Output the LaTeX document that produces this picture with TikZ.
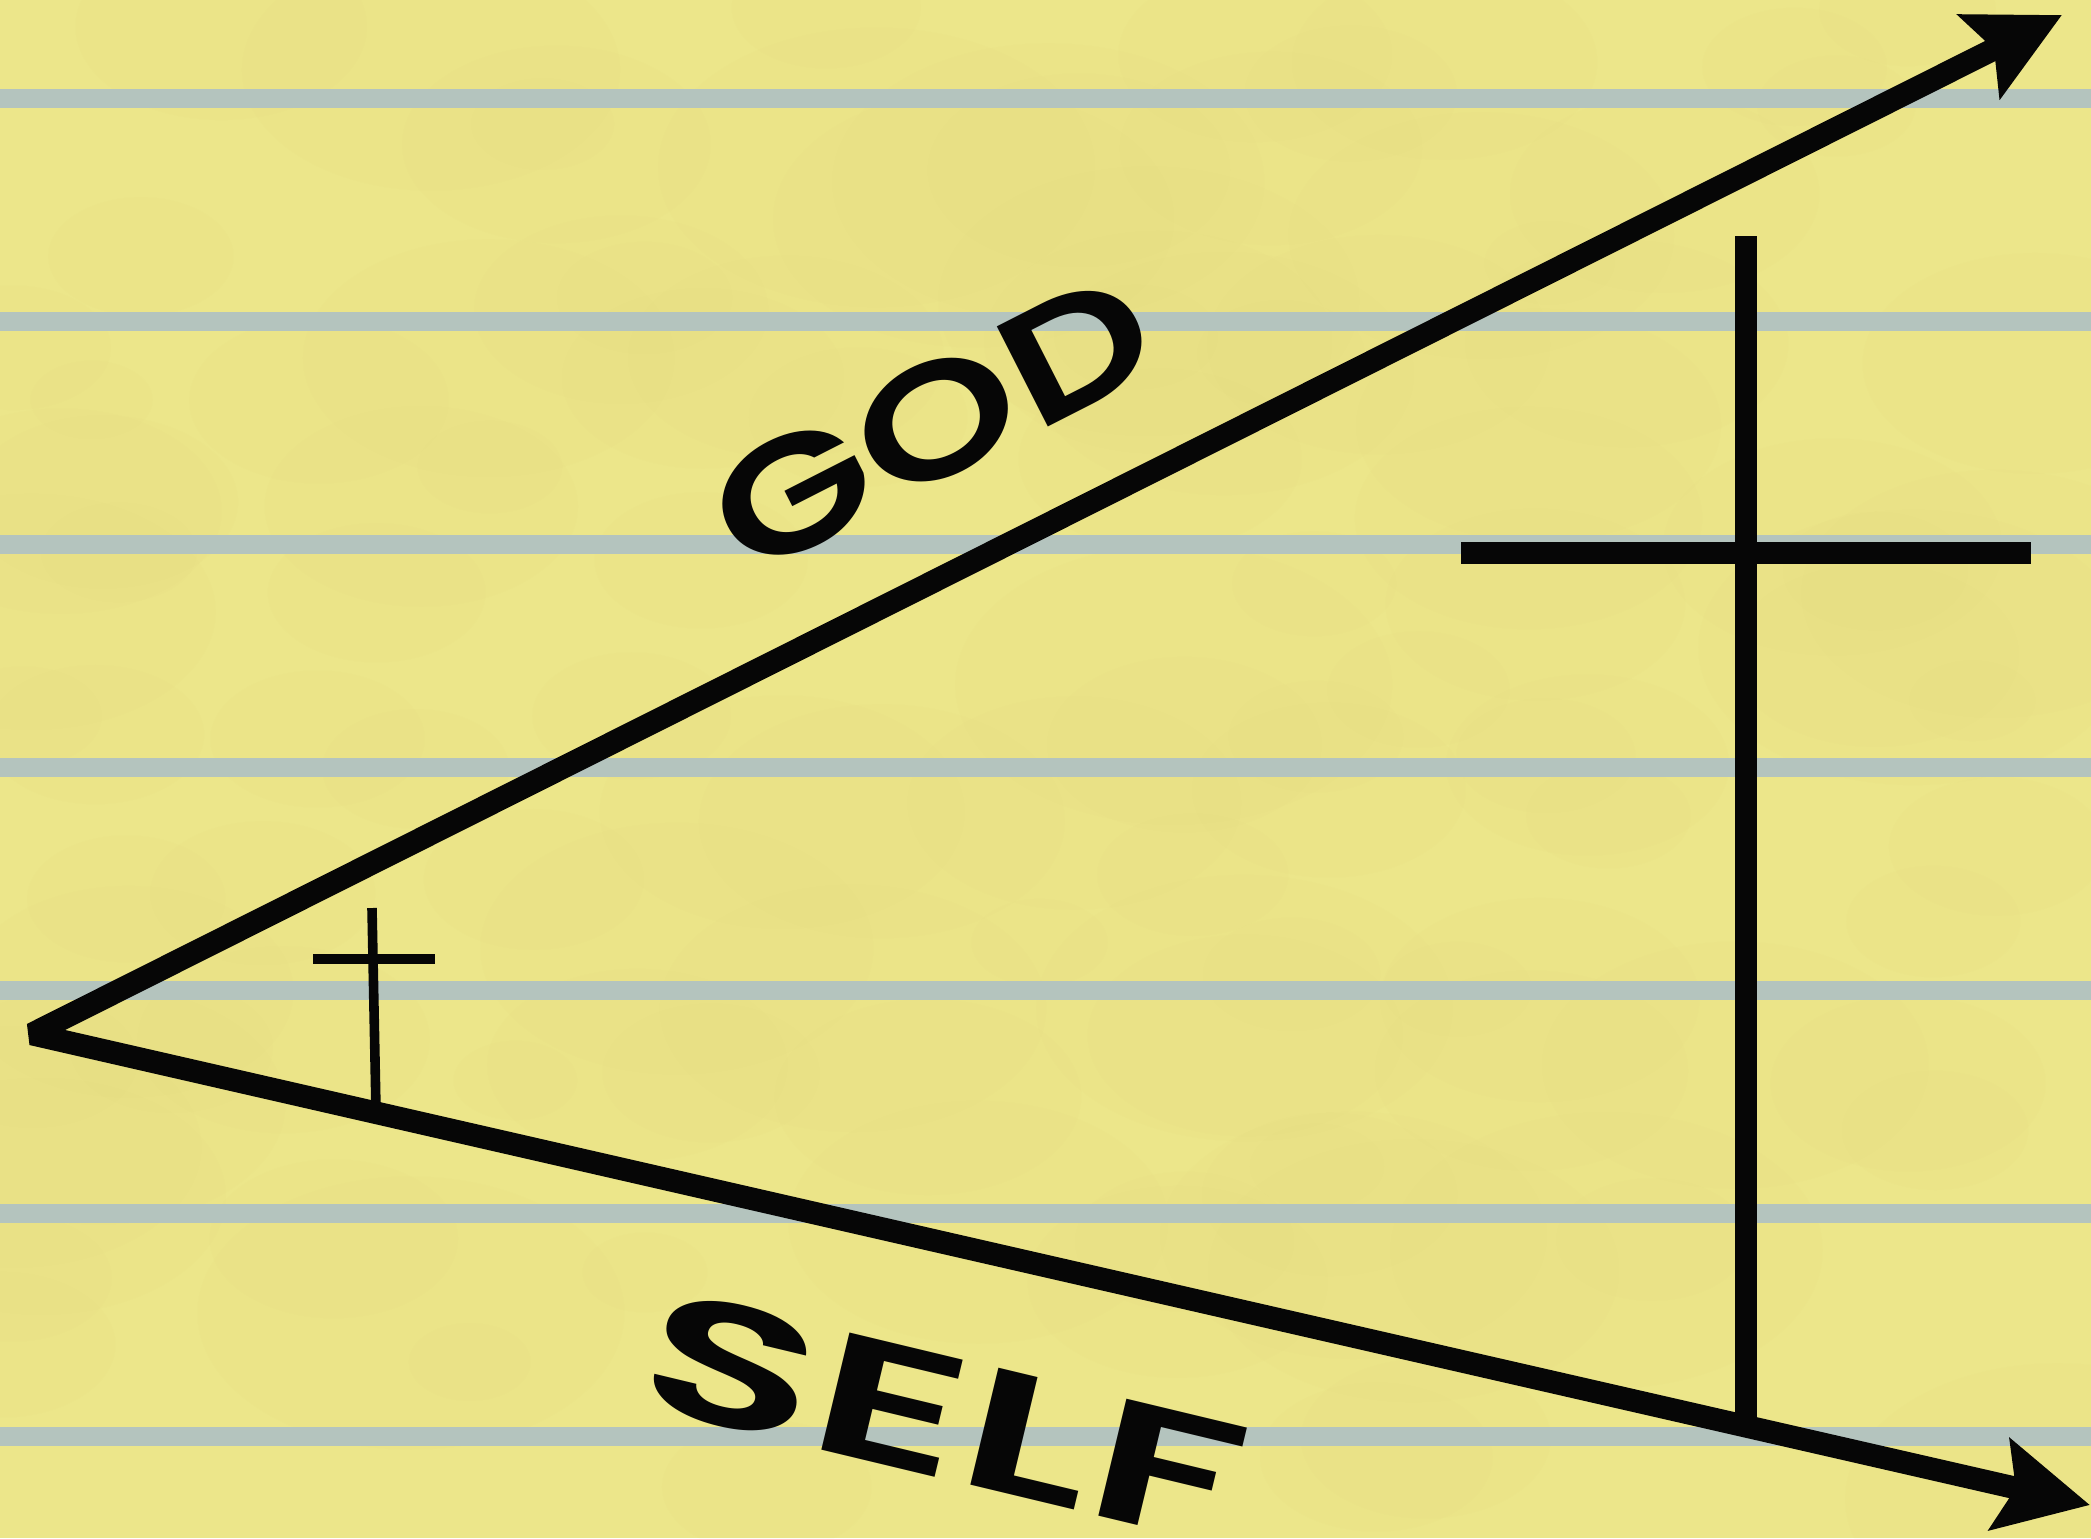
\documentclass[tikz,border=0pt]{standalone}
\usepackage{fontspec}
\newfontfamily\pop{Poppins SemiBold}
\usetikzlibrary{arrows.meta}
\definecolor{pad}{RGB}{236,230,138}
\definecolor{padshade}{RGB}{200,190,100}
\definecolor{rulecol}{RGB}{180,196,190}
\definecolor{ink}{RGB}{6,6,6}
\begin{document}
\begin{tikzpicture}[x=0.5pt,y=-0.5pt,
  mainline/.style={draw=ink,line width=11.3pt,line join=bevel,
     arrows={Stealth[length=46pt,width=46pt,inset=8pt]-Stealth[length=46pt,width=46pt,inset=8pt]}},
  bigbar/.style={draw=ink,line width=11.3pt},
  smallbar/.style={draw=ink,line width=4.8pt},
  padrule/.style={draw=rulecol,line width=9.5pt},
  wordlabel/.style={inner sep=0pt,text=ink}]
\useasboundingbox (0,0) rectangle (2091,1538);
\fill[pad] (0,0) rectangle (2091,1538);
% faint paper mottling
\pgfmathsetseed{11}
\foreach \i in {1,...,120} {
  \pgfmathsetmacro{\bx}{rnd*2091}
  \pgfmathsetmacro{\by}{rnd*1538}
  \pgfmathsetmacro{\br}{60+rnd*160}
  \fill[padshade,opacity=0.028] (\bx,\by) ellipse ({\br*0.5pt} and {\br*0.32pt});
}
\foreach \k in {0,...,6} \draw[padrule] (0,98+223*\k) -- (2091,98+223*\k);
% main arrows
\coordinate (apex) at (32,1034);
\coordinate (godtip) at (2062,15);
\coordinate (selftip) at (2090,1505);
\draw[mainline] (godtip) -- (apex) -- (selftip);
% big cross
\coordinate (bigtop) at (1746,236);
\coordinate (bigbase) at (1746,1424);
\coordinate (barL) at (1461,553);
\coordinate (barR) at (2031,553);
\draw[bigbar] (bigtop) -- (bigbase);
\draw[bigbar] (barL) -- (barR);
% small cross
\coordinate (smalltop) at (372,908);
\coordinate (smallbase) at (376,1110);
\coordinate (sbarL) at (313,959);
\coordinate (sbarR) at (435,959);
\draw[smallbar] (smalltop) -- (smallbase);
\draw[smallbar] (sbarL) -- (sbarR);
% labels
\node[wordlabel,rotate=27] (god) at (932,423) {\resizebox{236pt}{57pt}{\pop GOD}};
\node[wordlabel,rotate=-13.5] (self) at (944,1417) {\resizebox{306pt}{61pt}{\pop SELF}};
\end{tikzpicture}
\end{document}
